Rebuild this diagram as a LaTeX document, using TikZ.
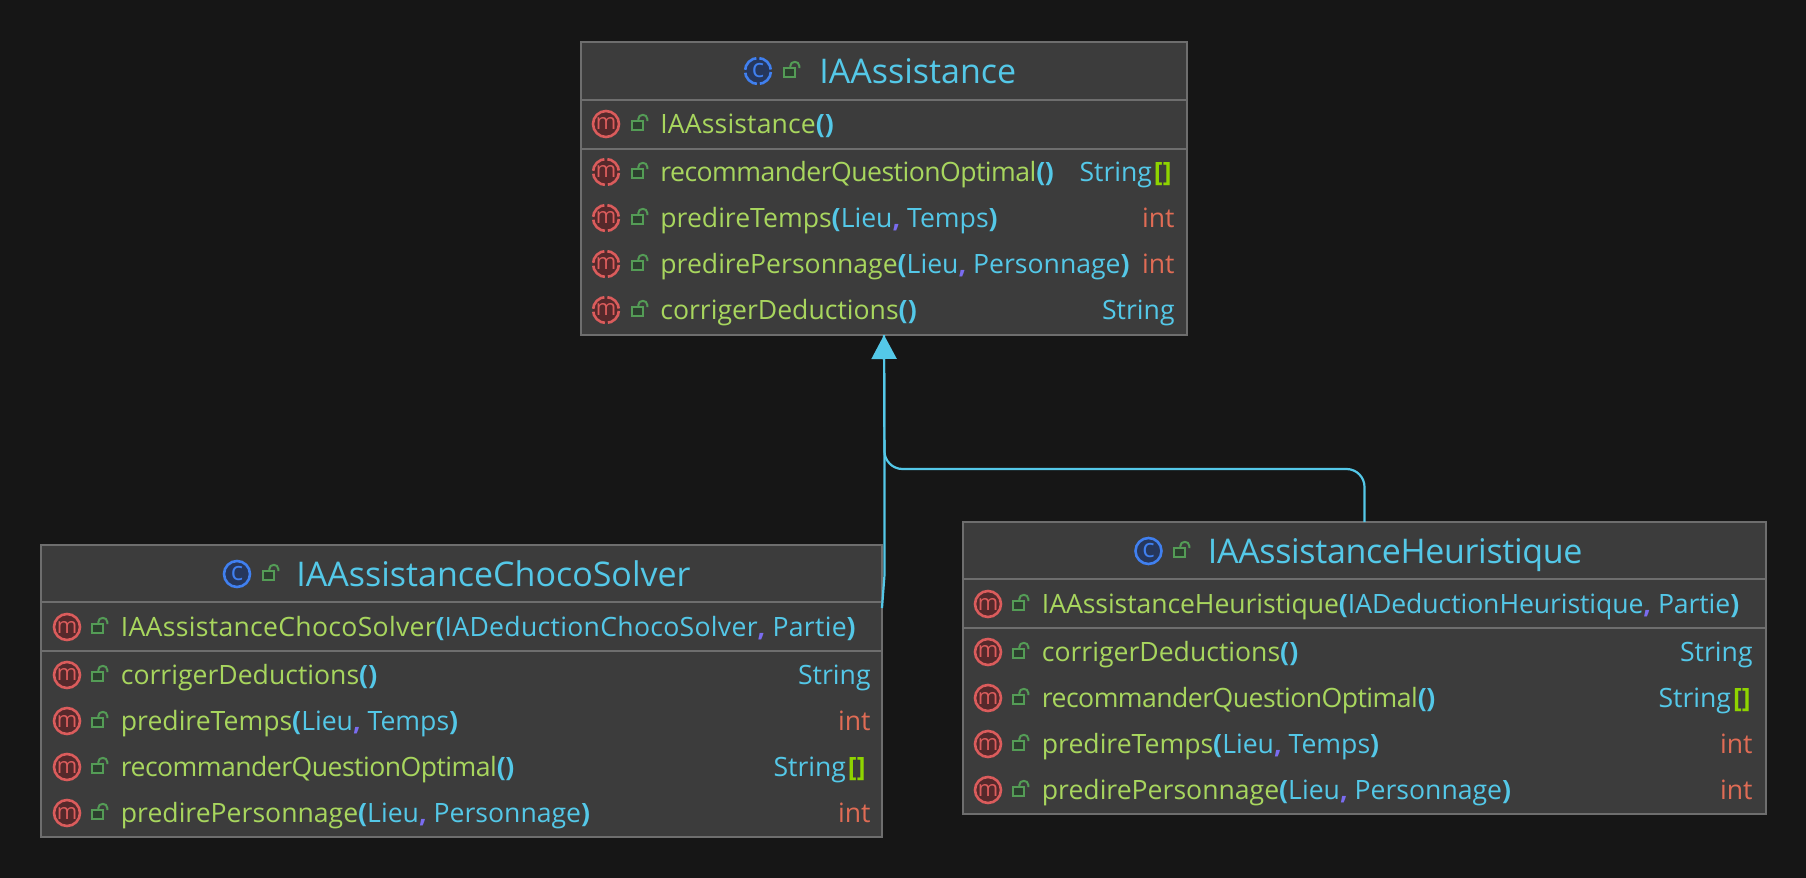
\documentclass[tikz,border=0pt]{standalone}
\usepackage{xcolor}
\usepackage{fontspec}
\usepackage{tikz}
\usetikzlibrary{arrows.meta}
\setmainfont{Open Sans}

\definecolor{bgdark}{HTML}{161616}
\definecolor{boxgrey}{HTML}{3C3C3C}
\definecolor{rulegrey}{HTML}{6E6E6E}
\definecolor{namegreen}{HTML}{A8D65E}
\definecolor{typecyan}{HTML}{54C8E8}
\definecolor{intred}{HTML}{E06C55}
\definecolor{commaviolet}{HTML}{7A6CF0}
\definecolor{brackgreen}{HTML}{8FD400}
\definecolor{iconred}{HTML}{DB5C5C}
\definecolor{iconreddark}{HTML}{55292B}
\definecolor{iconblue}{HTML}{4080F0}
\definecolor{iconbluedark}{HTML}{26375C}
\definecolor{lockgreen}{HTML}{549C56}
\definecolor{lockdark}{HTML}{2C3F2E}

\newcommand{\nm}[1]{\textcolor{namegreen}{#1}}
\newcommand{\ty}[1]{\textcolor{typecyan}{#1}}
\newcommand{\pn}[1]{\textcolor{typecyan}{\bfseries #1}}
\newcommand{\cm}{\textcolor{commaviolet}{\bfseries ,}\ }
\newcommand{\brk}{\kern1pt\textcolor{brackgreen}{\bfseries []}}
\newcommand{\spc}[1]{\addfontfeature{LetterSpace=#1}}

\tikzset{
  classbox/.style={draw=rulegrey, fill=boxgrey, line width=1pt, inner sep=0, outer sep=0},
  seprule/.style={draw=rulegrey, line width=1pt},
  title/.style={anchor=west, inner sep=0, font=\fontsize{17}{20}\selectfont, text=typecyan, text height=14pt, text depth=1.5pt},
  member/.style={anchor=west, inner sep=0, font=\fontsize{13.3}{16}\selectfont, text height=11pt, text depth=2pt},
  rettype/.style={member, anchor=east},
  micon/.style={circle, draw=iconred, fill=iconreddark, line width=1.3pt, minimum size=13pt, inner sep=0, text=iconred, font=\fontsize{11}{11}\selectfont},
  mabstract/.style={micon, dash pattern=on 8.7pt off 1.51pt, dash phase=9.45pt},
  cicon/.style={circle, draw=iconblue, fill=iconbluedark, line width=1.3pt, minimum size=13pt, inner sep=0, text=iconblue, font=\fontsize{13}{13}\selectfont},
  cabstract/.style={cicon, dash pattern=on 8.7pt off 1.51pt, dash phase=9.45pt},
  inherit/.style={draw=typecyan, line width=1.1pt},
  lockicon/.pic={
    \draw[lockgreen, line width=1pt, fill=lockdark] (-7.7,-3.3) rectangle (2.7,6);
    \draw[lockgreen, line width=1pt] (-1.7,-3.3) -- (-1.7,-5) .. controls (-1.7,-10.5) and (7.3,-10.5) .. (7.3,-5) -- (7.3,-3);
  }
}

\begin{document}
\begin{tikzpicture}[x=0.5pt, y=-0.5pt]
\useasboundingbox (0,0) rectangle (1806,878);
\fill[bgdark] (0,0) rectangle (1806,878);

% boxes %
\node[classbox, minimum width=303pt, minimum height=146.5pt] (assist) at (884,188.5) {};
\node[classbox, minimum width=420.5pt, minimum height=146pt] (choco) at (461.5,691) {};
\node[classbox, minimum width=401.5pt, minimum height=146pt] (heur) at (1364.5,668) {};

% separators %
\draw[seprule] (assist.west |- 0,100) -- (assist.east |- 0,100);
\draw[seprule] (assist.west |- 0,149) -- (assist.east |- 0,149);
\draw[seprule] (choco.west |- 0,602) -- (choco.east |- 0,602);
\draw[seprule] (choco.west |- 0,651) -- (choco.east |- 0,651);
\draw[seprule] (heur.west |- 0,579) -- (heur.east |- 0,579);
\draw[seprule] (heur.west |- 0,628) -- (heur.east |- 0,628);

% IAAssistance %
\node[cabstract] (aicon) at (758,71) {c};
\pic at (792,71) {lockicon};
\node[title] (atitle) at (819,71) {IAAssistance};
\node[micon] (am0) at (606,124) {m};
\pic at (640,124) {lockicon};
\node[member] (at0) at (660,124) {\spc{0.5}\nm{IAAssistance}\pn{()}};
\node[mabstract] (am1) at (606,172) {m};
\pic at (640,172) {lockicon};
\node[member] (at1) at (660,172) {\spc{-2}\nm{recommanderQuestionOptimal}\pn{()}};
\node[rettype] (ar1) at (1172,172) {\ty{String}\brk};
\node[mabstract] (am2) at (606,218) {m};
\pic at (640,218) {lockicon};
\node[member] (at2) at (660,218) {\nm{predireTemps}\pn{(}\ty{Lieu}\cm\ty{Temps}\pn{)}};
\node[rettype, text=intred] (ar2) at (1175,218) {int};
\node[mabstract] (am3) at (606,264) {m};
\pic at (640,264) {lockicon};
\node[member] (at3) at (660,264) {\nm{predirePersonnage}\pn{(}\ty{Lieu}\cm\ty{Personnage}\pn{)}};
\node[rettype, text=intred] (ar3) at (1175,264) {int};
\node[mabstract] (am4) at (606,310) {m};
\pic at (640,310) {lockicon};
\node[member] (at4) at (660,310) {\nm{corrigerDeductions}\pn{()}};
\node[rettype] (ar4) at (1175,310) {\ty{String}};

% IAAssistanceChocoSolver %
\node[cicon] (cicon) at (237,574) {c};
\pic at (271,574) {lockicon};
\node[title] (ctitle) at (296,574) {IAAssistanceChocoSolver};
\node[micon] (cm0) at (67,627) {m};
\pic at (100,627) {lockicon};
\node[member] (ct0) at (120.5,627) {\spc{1.1}\nm{IAAssistanceChocoSolver}\pn{(}\ty{IADeductionChocoSolver}\cm\ty{Partie}\pn{)}};
\node[micon] (cm1) at (67,675) {m};
\pic at (100,675) {lockicon};
\node[member] (ct1) at (120.5,675) {\nm{corrigerDeductions}\pn{()}};
\node[rettype] (cr1) at (871,675) {\ty{String}};
\node[micon] (cm2) at (67,721) {m};
\pic at (100,721) {lockicon};
\node[member] (ct2) at (120.5,721) {\nm{predireTemps}\pn{(}\ty{Lieu}\cm\ty{Temps}\pn{)}};
\node[rettype, text=intred] (cr2) at (871,721) {int};
\node[micon] (cm3) at (67,767) {m};
\pic at (100,767) {lockicon};
\node[member] (ct3) at (120.5,767) {\spc{-2}\nm{recommanderQuestionOptimal}\pn{()}};
\node[rettype] (cr3) at (866,767) {\ty{String}\brk};
\node[micon] (cm4) at (67,813) {m};
\pic at (100,813) {lockicon};
\node[member] (ct4) at (120.5,813) {\nm{predirePersonnage}\pn{(}\ty{Lieu}\cm\ty{Personnage}\pn{)}};
\node[rettype, text=intred] (cr4) at (871,813) {int};

% IAAssistanceHeuristique %
\node[cicon] (hicon) at (1148.5,551) {c};
\pic at (1182,551) {lockicon};
\node[title] (htitle) at (1207.5,551) {\spc{-1}IAAssistanceHeuristique};
\node[micon] (hm0) at (988,604) {m};
\pic at (1021,604) {lockicon};
\node[member] (ht0) at (1041.5,604) {\spc{-0.3}\nm{IAAssistanceHeuristique}\pn{(}\ty{IADeductionHeuristique}\cm\ty{Partie}\pn{)}};
\node[micon] (hm1) at (988,652) {m};
\pic at (1021,652) {lockicon};
\node[member] (ht1) at (1041.5,652) {\nm{corrigerDeductions}\pn{()}};
\node[rettype] (hr1) at (1753,652) {\ty{String}};
\node[micon] (hm2) at (988,698) {m};
\pic at (1021,698) {lockicon};
\node[member] (ht2) at (1041.5,698) {\spc{-2}\nm{recommanderQuestionOptimal}\pn{()}};
\node[rettype] (hr2) at (1751,698) {\ty{String}\brk};
\node[micon] (hm3) at (988,744) {m};
\pic at (1021,744) {lockicon};
\node[member] (ht3) at (1041.5,744) {\nm{predireTemps}\pn{(}\ty{Lieu}\cm\ty{Temps}\pn{)}};
\node[rettype, text=intred] (hr3) at (1753,744) {int};
\node[micon] (hm4) at (988,790) {m};
\pic at (1021,790) {lockicon};
\node[member] (ht4) at (1041.5,790) {\nm{predirePersonnage}\pn{(}\ty{Lieu}\cm\ty{Personnage}\pn{)}};
\node[rettype, text=intred] (hr4) at (1753,790) {int};

% edges %
\coordinate (chocoport) at (882,608);
\coordinate (chocobend) at (884.5,575);
\coordinate (joinpoint) at (884.5,469);
\draw[inherit] (chocoport) -- (chocobend) -- (joinpoint);
\draw[inherit, rounded corners=9pt] (heur.north) |- (joinpoint) -- (assist.south);
\draw[inherit, -{Triangle[length=12pt, width=12.5pt]}] (joinpoint) -- (assist.south);
\end{tikzpicture}
\end{document}
